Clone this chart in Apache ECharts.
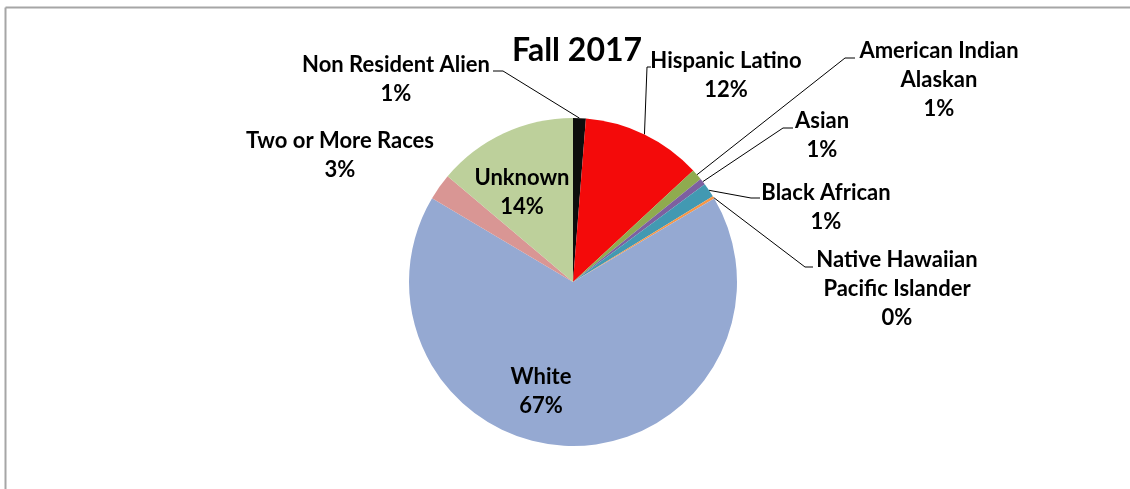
<!DOCTYPE html>
<html>
<head>
<meta charset="utf-8">
<script src="https://cdn.jsdelivr.net/npm/echarts@6/dist/echarts.min.js"></script>
<style>
html,body{margin:0;padding:0;background:#fff;}
#chart{width:1130px;height:489px;}
</style>
</head>
<body>
<div id="chart"></div>
<script>
// ---- data ----
var titleText = 'Fall 2017';
var categories = ['Non Resident Alien', 'Hispanic Latino', 'American Indian\nAlaskan', 'Asian', 'Black African',
  'Native Hawaiian\nPacific Islander', 'White', 'Two or More Races', 'Unknown'];
var values = [1.25, 11.8, 1.1, 0.65, 1.4, 0.25, 66.8, 2.6, 13.8];
var colors = ['#0d0d0d', '#f40a0a', '#8fab4f', '#7d60a0', '#4299b2', '#f79646', '#95a9d2', '#d99694', '#bdd09b'];
var insideLabels = ['White', 'Unknown'];

// ---- label layout (text block centres, leader bend/end points) ----
var labelLayoutCfg = {
  'Non Resident Alien': {x: 396, y: 79, line: [[503, 71], [493, 71]]},
  'Hispanic Latino': {x: 726, y: 75, line: [[647, 67], [651, 67]]},
  'American Indian\nAlaskan': {x: 939, y: 80, line: [[845, 58], [855, 58]]},
  'Asian': {x: 822, y: 135, line: [[783, 128], [793, 128]]},
  'Black African': {x: 826, y: 207, line: [[751, 198], [760, 198]]},
  'Native Hawaiian\nPacific Islander': {x: 897, y: 289, line: [[805, 267], [813, 267]]},
  'White': {x: 541, y: 391},
  'Two or More Races': {x: 340, y: 155},
  'Unknown': {x: 522, y: 192}
};

var total = values.reduce(function (a, b) { return a + b; }, 0);
var FONT = 'Lato, "Open Sans", sans-serif';

var data = categories.map(function (c, i) {
  var inside = insideLabels.indexOf(c) >= 0;
  var noLine = inside || c === 'Two or More Races';
  return {
    name: c,
    value: values[i],
    itemStyle: {color: colors[i]},
    label: {position: inside ? 'inside' : 'outside'},
    labelLine: {show: !noLine}
  };
});

var chart = echarts.init(document.getElementById('chart'));
chart.setOption({
  animation: false,
  graphic: [
    {type: 'line', shape: {x1: 5.5, y1: 7.5, x2: 1135, y2: 7.5}, style: {stroke: '#a6a6a6', lineWidth: 2}},
    {type: 'line', shape: {x1: 5.5, y1: 7.5, x2: 5.5, y2: 495}, style: {stroke: '#a6a6a6', lineWidth: 2}}
  ],
  title: {
    text: titleText,
    left: 572, top: 46,
    textAlign: 'center', textVerticalAlign: 'middle',
    textStyle: {fontFamily: FONT, fontWeight: 'bold', fontSize: 32, color: '#000'}
  },
  series: [{
    type: 'pie',
    center: [573, 282],
    radius: 164,
    startAngle: 90,
    clockwise: true,
    avoidLabelOverlap: false,
    data: data,
    itemStyle: {borderWidth: 0},
    label: {
      show: true,
      fontFamily: FONT,
      fontWeight: 'bold',
      fontSize: 22,
      lineHeight: 29,
      color: '#000',
      align: 'center',
      formatter: function (p) {
        return p.name + '\n' + Math.round(p.value / total * 100) + '%';
      }
    },
    labelLine: {show: true, lineStyle: {color: '#000', width: 1}, length: 10, length2: 10},
    labelLayout: function (params) {
      var name = categories[params.dataIndex];
      var cfg = labelLayoutCfg[name];
      var res = {x: cfg.x, y: cfg.y, align: 'center', verticalAlign: 'middle'};
      if (cfg.line && params.labelLinePoints) {
        var start = params.labelLinePoints[0];
        res.labelLinePoints = [start, cfg.line[0], cfg.line[1]];
      }
      return res;
    }
  }]
});
</script>
</body>
</html>
